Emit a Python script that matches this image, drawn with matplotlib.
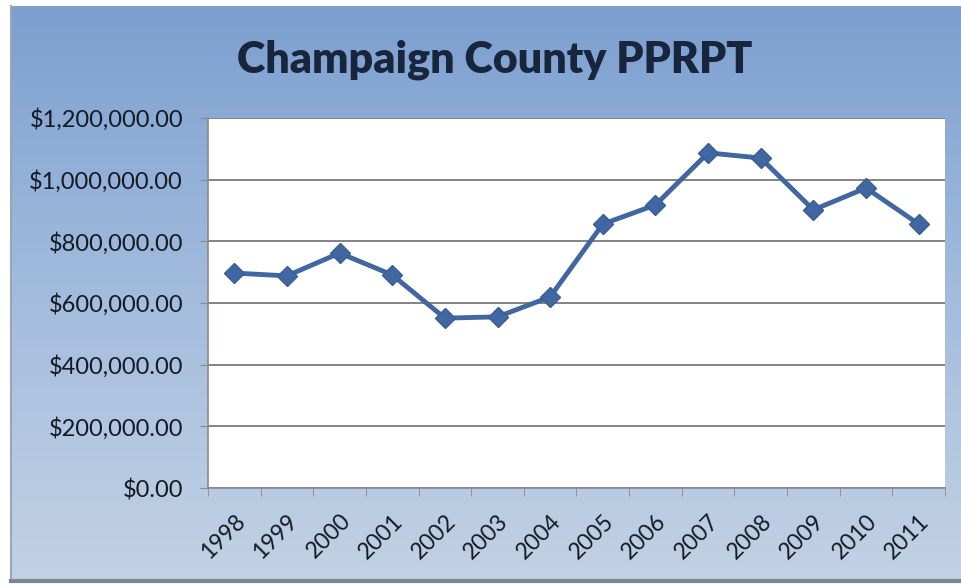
import numpy as np
import matplotlib.pyplot as plt
from matplotlib.ticker import FuncFormatter, FixedLocator
from matplotlib.colors import LinearSegmentedColormap

years = ["1998", "1999", "2000", "2001", "2002", "2003", "2004",
         "2005", "2006", "2007", "2008", "2009", "2010", "2011"]
pprpt = [697000, 688000, 762000, 691000, 551000, 555000, 620000,
         856000, 918000, 1087000, 1070000, 902000, 973000, 856000]

plt.rcParams['font.family'] = ['Lato', 'DejaVu Sans']

W, H = 961, 585
fig = plt.figure(figsize=(W / 100, H / 100), dpi=100, facecolor="white")

# gradient background behind the chart (white margin top/left like the scan)
bg = fig.add_axes([11 / W, 4 / H, 1 - 11 / W, 1 - 10 / H], zorder=0)
cmap = LinearSegmentedColormap.from_list("bg", ["#7c9fd0", "#a3bcdd", "#c2d2e5"])
grad = np.linspace(0, 1, 256).reshape(-1, 1)
bg.imshow(grad, aspect="auto", cmap=cmap, extent=[0, 1, 0, 1], origin="upper")
bg.set_xlim(0, 1)
bg.set_ylim(0, 1)
bg.set_xticks([])
bg.set_yticks([])
for s in ["top", "right"]:
    bg.spines[s].set_visible(False)
bg.spines["left"].set_color("#9aa6b4")
bg.spines["left"].set_linewidth(1.5)
bg.spines["bottom"].set_color("#7d8590")
bg.spines["bottom"].set_linewidth(3)

ax = fig.add_axes([208 / W, 1 - 488 / H, 737 / W, 370 / H], zorder=1)
ax.set_facecolor("white")

x = np.arange(len(years))
ax.plot(x, pprpt, color="#4167a3", lw=3.5, marker="D", ms=10,
        markerfacecolor="#4167a3", markeredgecolor="#3a5d95", zorder=3)

ax.set_xlim(-0.5, len(years) - 0.5)
ax.set_ylim(0, 1200000)
ax.set_yticks(np.arange(0, 1200001, 200000))
ax.yaxis.set_major_formatter(FuncFormatter(lambda v, p: f"${v:,.2f}"))
ax.grid(axis="y", color="#7a7a7a", lw=1.3)
ax.set_axisbelow(True)

ax.set_xticks(x)
ax.set_xticklabels(years, rotation=45, ha="right", rotation_mode="anchor")
ax.xaxis.set_minor_locator(FixedLocator(np.arange(-0.5, len(years), 1)))
ax.tick_params(axis="x", which="major", length=0, pad=16, labelsize=16.5, colors="#141a24")
ax.tick_params(axis="x", which="minor", length=6, color="#8a8a8a")
ax.tick_params(axis="y", length=6, color="#8a8a8a", labelsize=17, labelcolor="#141a24", pad=12)
for s in ["top", "right"]:
    ax.spines[s].set_visible(False)
for s in ["left", "bottom"]:
    ax.spines[s].set_color("#8a8a8a")
    ax.spines[s].set_linewidth(1.2)

fig.text(0.515, 1 - 60 / H, "Champaign County PPRPT", ha="center", va="center",
         fontsize=31, fontweight="heavy", color="#18263d")

fig.savefig("out.png", dpi=100)
